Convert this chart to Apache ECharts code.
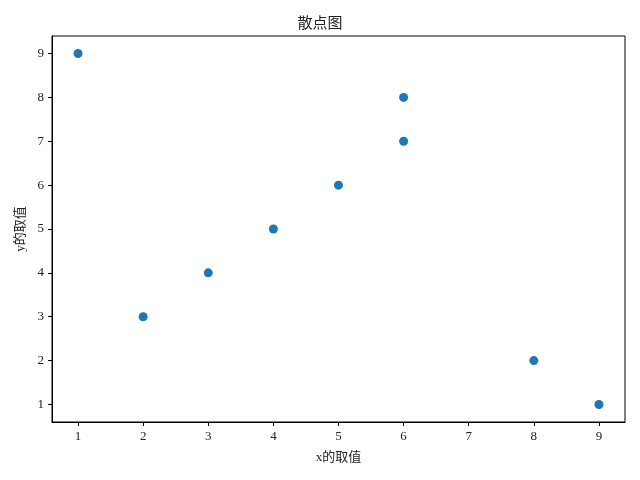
<!DOCTYPE html>
<html>
<head>
<meta charset="utf-8">
<script src="https://cdn.jsdelivr.net/npm/echarts@6/dist/echarts.min.js"></script>
<style>html,body{margin:0;padding:0;background:#fff}#c{width:640px;height:480px}</style>
</head>
<body>
<div id="c"></div>
<script>
const xValues = [1, 2, 3, 4, 5, 6, 6, 8, 9];
const yValues = [9, 3, 4, 5, 6, 8, 7, 2, 1];
const tickValues = [1, 2, 3, 4, 5, 6, 7, 8, 9];
const titleText = '散点图';
const xName = 'x的取值';
const yName = 'y的取值';

const font = "'Liberation Serif', 'Noto Sans CJK SC', serif";
const points = xValues.map((x, i) => [x, yValues[i]]);

const axisCommon = {
  min: 0.6, max: 9.4,
  interval: 1,
  nameLocation: 'middle',
  axisLine: { show: true, onZero: false, lineStyle: { color: '#000', width: 1 } },
  axisTick: { show: true, inside: false, length: 4, customValues: tickValues, lineStyle: { color: '#000', width: 1 } },
  splitLine: { show: false },
  axisLabel: {
    color: '#222', fontSize: 13, fontFamily: font, margin: 8,
    customValues: tickValues,
    formatter: v => String(Math.round(v))
  },
  nameTextStyle: { color: '#222', fontSize: 13, fontFamily: font }
};

const chart = echarts.init(document.getElementById('c'), null, { renderer: 'canvas' });
chart.setOption({
  animation: false,
  backgroundColor: '#fff',
  title: {
    text: titleText, left: 'center', top: 12,
    textStyle: { color: '#222', fontSize: 15, fontWeight: 'normal', fontFamily: font }
  },
  grid: { left: 52, right: 15, top: 36, bottom: 58, show: true, borderColor: '#000', borderWidth: 1, backgroundColor: 'transparent' },
  xAxis: Object.assign({}, axisCommon, { type: 'value', name: xName, nameGap: 29 }),
  yAxis: Object.assign({}, axisCommon, { type: 'value', name: yName, nameGap: 24 }),
  series: [{
    type: 'scatter',
    data: points,
    symbol: 'circle',
    symbolSize: 9,
    itemStyle: { color: '#1f77b4', opacity: 1 }
  }]
});
</script>
</body>
</html>
